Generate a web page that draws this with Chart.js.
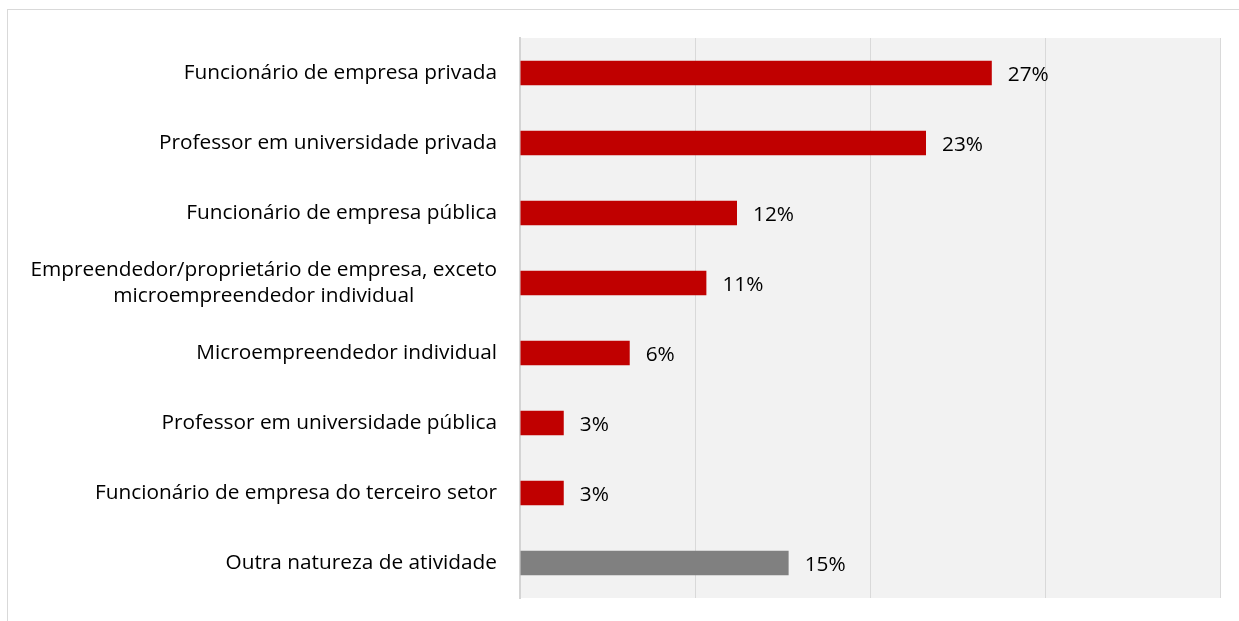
<!DOCTYPE html>
<html>
<head>
<meta charset="utf-8">
<script src="https://cdn.jsdelivr.net/npm/chart.js@4"></script>
<style>
  html, body { margin: 0; padding: 0; background: #fff; overflow: hidden; }
  #frame { position: absolute; left: 7px; top: 9px; width: 1250px; height: 640px; border: 1px solid #d9d9d9; }
  #chart { position: absolute; left: 0; top: 0; }
</style>
</head>
<body>
<div id="frame"></div>
<canvas id="chart" width="1239" height="621"></canvas>
<script>
// categorias (multi-line labels as arrays)
const categories = [
    ['Funcionário de empresa privada'],
    ['Professor em universidade privada'],
    ['Funcionário de empresa pública'],
    ['Empreendedor/proprietário de empresa, exceto', 'microempreendedor individual'],
    ['Microempreendedor individual'],
    ['Professor em universidade pública'],
    ['Funcionário de empresa do terceiro setor'],
    ['Outra natureza de atividade']
];
const values = [26.96, 23.2, 12.4, 10.65, 6.27, 2.5, 2.5, 15.35];
const valueLabels = ['27%', '23%', '12%', '11%', '6%', '3%', '3%', '15%'];
const axisMin = 0;
const axisMax = 40;
const axisStep = 10;

const RED = '#c00000';
const GREY = '#808080';
const FONT = "'Open Sans', sans-serif";
const FONT_SIZE = 20.8;

// plot background
const plotBg = {
    id: 'plotBg',
    beforeDraw(chart) {
        const a = chart.chartArea;
        const ctx = chart.ctx;
        ctx.save();
        ctx.fillStyle = '#f2f2f2';
        ctx.fillRect(a.left, a.top, a.right - a.left, a.bottom - a.top);
        ctx.restore();
    }
};

// category labels: block right-aligned, lines centered inside block
const catLabels = {
    id: 'catLabels',
    afterDraw(chart) {
        const ctx = chart.ctx;
        const yScale = chart.scales.y;
        const right = chart.chartArea.left - 23;
        const lineH = 26;
        ctx.save();
        ctx.font = `${FONT_SIZE}px ${FONT}`;
        ctx.fillStyle = '#000';
        ctx.textAlign = 'center';
        ctx.textBaseline = 'middle';
        categories.forEach((lines, i) => {
            const y = yScale.getPixelForValue(i);
            const w = Math.max(...lines.map(l => ctx.measureText(l).width));
            const cx = right - w / 2;
            const y0 = y - (lines.length - 1) * lineH / 2;
            lines.forEach((l, j) => ctx.fillText(l, cx, y0 + j * lineH));
        });
        ctx.restore();
    }
};

// value labels at bar ends
const barLabels = {
    id: 'barLabels',
    afterDatasetsDraw(chart) {
        const ctx = chart.ctx;
        const meta = chart.getDatasetMeta(0);
        ctx.save();
        ctx.font = `${FONT_SIZE}px ${FONT}`;
        ctx.fillStyle = '#000';
        ctx.textAlign = 'left';
        ctx.textBaseline = 'middle';
        meta.data.forEach((bar, i) => {
            ctx.fillText(valueLabels[i], bar.x + 16, bar.y + 2);
        });
        ctx.restore();
    }
};

const ctx = document.getElementById('chart').getContext('2d');
new Chart(ctx, {
    type: 'bar',
    data: {
        labels: categories,
        datasets: [{
            data: values,
            backgroundColor: values.map((v, i) => i === values.length - 1 ? GREY : RED),
            barPercentage: 0.35,
            categoryPercentage: 1
        }]
    },
    options: {
        indexAxis: 'y',
        responsive: false,
        animation: false,
        devicePixelRatio: 1,
        layout: { padding: { left: 0, right: 19, top: 38, bottom: 23 } },
        plugins: {
            legend: { display: false },
            tooltip: { enabled: false }
        },
        scales: {
            x: {
                min: axisMin,
                max: axisMax,
                ticks: { display: false, stepSize: axisStep },
                grid: { color: '#d9d9d9', lineWidth: 1, drawTicks: false },
                border: { display: false },
                afterFit(s) { s.height = 0; }
            },
            y: {
                ticks: { display: false },
                grid: { display: false },
                border: { display: true, color: '#d4d4d4', width: 2 },
                afterFit(s) { s.width = 520; }
            }
        }
    },
    plugins: [plotBg, catLabels, barLabels]
});
</script>
</body>
</html>
